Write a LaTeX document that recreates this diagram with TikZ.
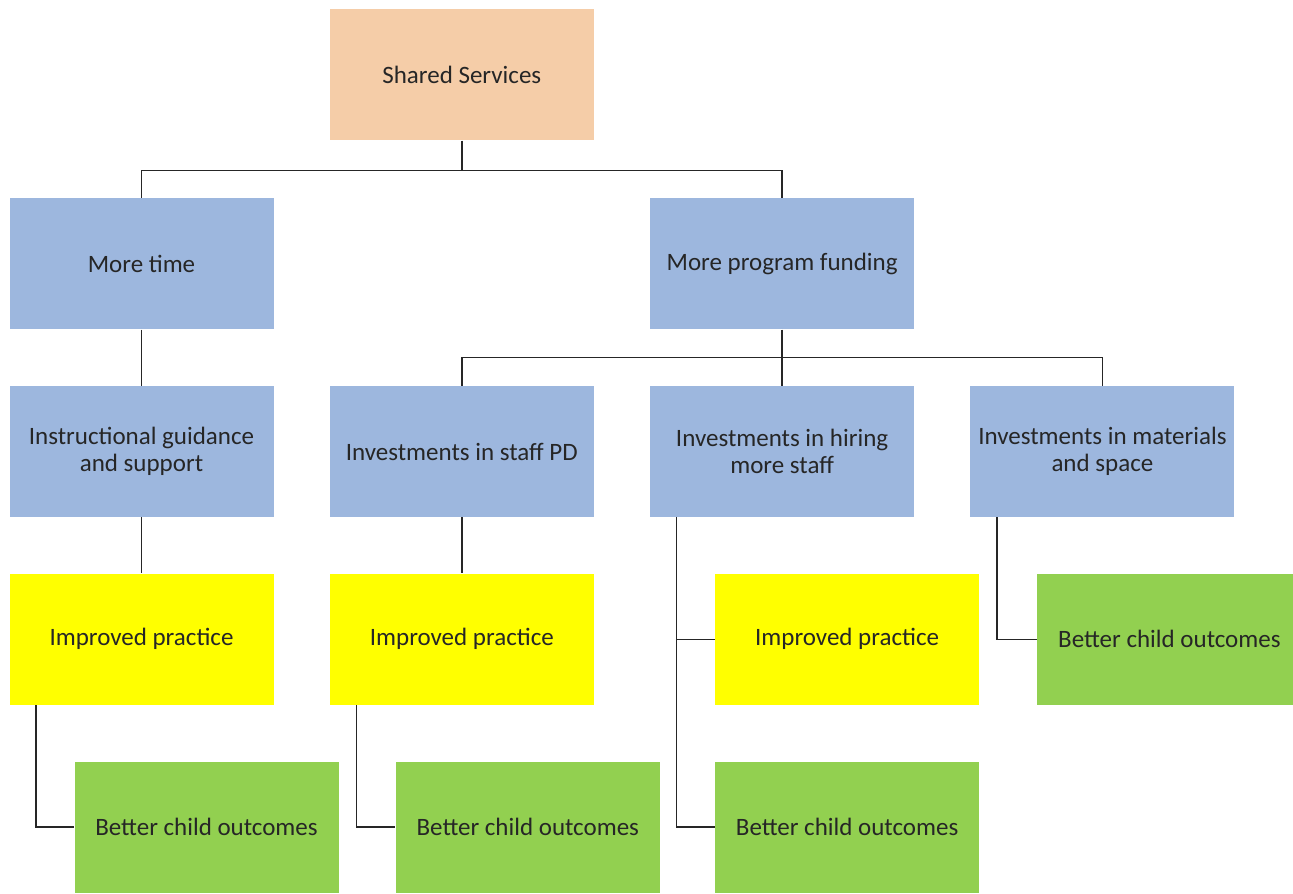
\documentclass[tikz,border=0pt]{standalone}
\usepackage{fontspec}
\setmainfont{Carlito}
\usetikzlibrary{positioning}
\definecolor{peach}{RGB}{245,205,168}
\definecolor{paleblue}{RGB}{157,183,222}
\definecolor{brightyellow}{RGB}{255,255,0}
\definecolor{leafgreen}{RGB}{146,208,80}
\def\dx{27.75pt}
\def\dy{28pt}
\tikzstyle{box}=[minimum width=132pt,minimum height=65.5pt,inner sep=2pt,
  align=center,text=black!85,font=\fontsize{12.5}{13.5}\selectfont]
\tikzstyle{top}=[box,fill=peach]
\tikzstyle{mid}=[box,fill=paleblue]
\tikzstyle{practice}=[box,fill=brightyellow]
\tikzstyle{outcome}=[box,fill=leafgreen]
\tikzstyle{link}=[line width=0.75pt,black!85]
\begin{document}
\begin{tikzpicture}[node distance=\dy and \dx]
      \useasboundingbox (0,0) rectangle (646.5pt,-446.5pt);
      % second row of blue boxes
      \node[mid] (guidance) at (70.75pt,-225.75pt) {Instructional guidance\\and support};
      \node[mid,right=of guidance] (staffpd) {Investments in staff PD};
      \node[mid,right=of staffpd] (hiring) {Investments in hiring\\more staff};
      \node[mid,right=of hiring] (materials) {Investments in materials\\and space};
      % top rows
      \node[mid,above=of guidance] (time) {More time};
      \node[mid,above=of hiring] (funding) {More program funding};
      \node[top,above=of staffpd,yshift=94.5pt] (shared) {Shared Services};
      % practice and outcomes
      \node[practice,below=of guidance] (ip1) {Improved practice};
      \node[practice,below=of staffpd] (ip2) {Improved practice};
      \node[practice,below=of hiring,xshift=32.5pt] (ip3) {Improved practice};
      \node[outcome,below=of materials,xshift=33.5pt] (bco4) {Better child\ outcomes};
      \node[outcome,below=of ip1,xshift=32.5pt] (bco1) {Better child\ outcomes};
      \node[outcome,below=of ip2,xshift=33pt] (bco2) {Better child\ outcomes};
      \node[outcome,below=of ip3] (bco3) {Better child\ outcomes};
      % connectors
      \draw[link] (shared.south) -- ++(0,-15pt) coordinate (j1);
      \draw[link] (j1) -| (time.north);
      \draw[link] (j1) -| (funding.north);
      \draw[link] (funding.south) -- ++(0,-14pt) coordinate (j2);
      \draw[link] (j2) -| (staffpd.north);
      \draw[link] (j2) -| (hiring.north);
      \draw[link] (j2) -| (materials.north);
      \draw[link] (time) -- (guidance);
      \draw[link] (guidance) -- (ip1);
      \draw[link] (staffpd) -- (ip2);
      \draw[link] ([xshift=13.5pt]hiring.south west) |- (ip3.west);
      \draw[link] ([xshift=13.5pt]hiring.south west) |- (bco3.west);
      \draw[link] ([xshift=13.5pt]materials.south west) |- (bco4.west);
      \draw[link] ([xshift=13.5pt]ip1.south west) |- (bco1.west);
      \draw[link] ([xshift=13.5pt]ip2.south west) |- (bco2.west);
    \end{tikzpicture}
\end{document}
